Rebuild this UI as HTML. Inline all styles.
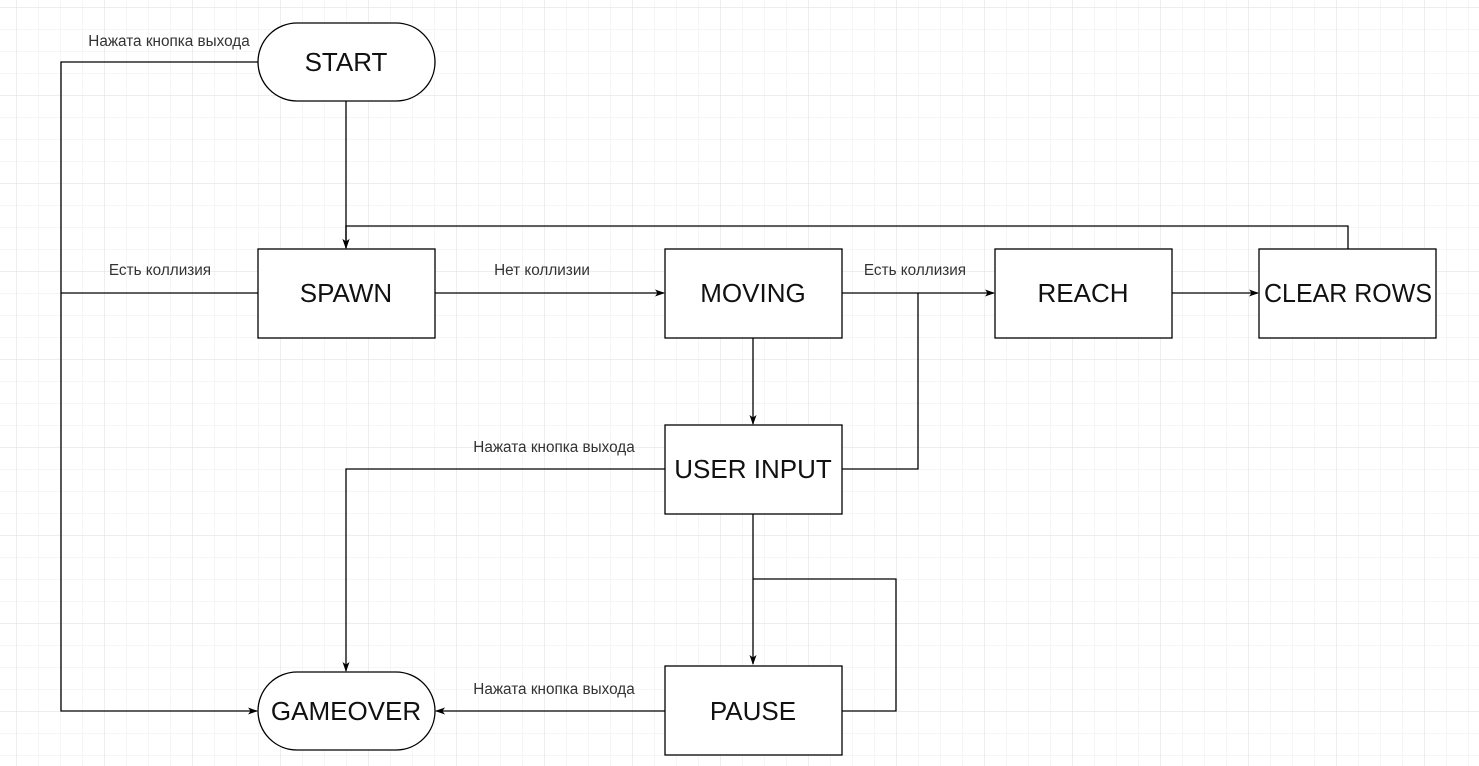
<!DOCTYPE html>
<html><head><meta charset="utf-8"><style>
html,body{margin:0;padding:0;background:#fff;}
svg{display:block;}
</style></head><body>
<svg width="1479" height="766" xmlns="http://www.w3.org/2000/svg">
<defs>
<pattern id="g" x="16" y="7" width="22" height="22" patternUnits="userSpaceOnUse">
<path d="M0 0H22M0 0V22" stroke="#ececec" stroke-width="1" fill="none"/>
</pattern>
<pattern id="G" x="16" y="7" width="88" height="88" patternUnits="userSpaceOnUse">
<path d="M0 0H88M0 0V88" stroke="#dedede" stroke-width="1" fill="none"/>
</pattern>
<marker id="a" markerWidth="10" markerHeight="8" refX="9" refY="4" orient="auto" markerUnits="userSpaceOnUse">
<path d="M0 0.5L10 4L0 7.5L2.5 4Z" fill="#000"/>
</marker>
</defs>
<rect width="1479" height="766" fill="url(#g)"/>
<rect width="1479" height="766" fill="url(#G)"/>
<g fill="none" stroke="#000" stroke-width="1.3">
<path d="M258 62H61V711H257" marker-end="url(#a)"/>
<path d="M346 101V248" marker-end="url(#a)"/>
<path d="M1348 249V226H346V248" marker-end="url(#a)"/>
<path d="M258 293H61"/>
<path d="M435 293H664" marker-end="url(#a)"/>
<path d="M842 293H994" marker-end="url(#a)"/>
<path d="M1172 293H1258" marker-end="url(#a)"/>
<path d="M918 293V469H842"/>
<path d="M753 338V424" marker-end="url(#a)"/>
<path d="M665 469H346V671" marker-end="url(#a)"/>
<path d="M753 514V664" marker-end="url(#a)"/>
<path d="M842 711H896V579H753"/>
<path d="M665 711H436" marker-end="url(#a)"/>
</g>
<g fill="#fff" stroke="#000" stroke-width="1.3">
<rect x="258" y="23" width="177" height="78" rx="39"/>
<rect x="258" y="249" width="177" height="89"/>
<rect x="665" y="249" width="177" height="89"/>
<rect x="995" y="249" width="177" height="89"/>
<rect x="1259" y="249" width="177" height="89"/>
<rect x="665" y="425" width="177" height="89"/>
<rect x="665" y="666" width="177" height="89"/>
<rect x="258" y="672" width="177" height="78" rx="39"/>
</g>
<g font-family="Liberation Sans, sans-serif" font-size="26" fill="#111" text-anchor="middle">
<text x="346" y="71">START</text>
<text x="346" y="302">SPAWN</text>
<text x="753" y="302">MOVING</text>
<text x="1083" y="302">REACH</text>
<text x="1348" y="302" textLength="168" lengthAdjust="spacingAndGlyphs">CLEAR ROWS</text>
<text x="753" y="478">USER INPUT</text>
<text x="753" y="720">PAUSE</text>
<text x="346" y="720">GAMEOVER</text>
</g>
<g font-family="Liberation Sans, sans-serif" font-size="15.3" fill="#333" text-anchor="middle">
<text x="169" y="46">Нажата кнопка выхода</text>
<text x="160" y="275">Есть коллизия</text>
<text x="542" y="275">Нет коллизии</text>
<text x="915" y="275">Есть коллизия</text>
<text x="554" y="452">Нажата кнопка выхода</text>
<text x="554" y="694">Нажата кнопка выхода</text>
</g>
</svg>
</body></html>
